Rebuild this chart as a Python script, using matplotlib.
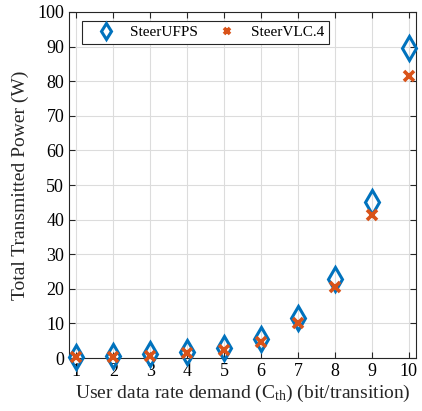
import numpy as np
import matplotlib
matplotlib.use('Agg')
from matplotlib import pyplot as plt

plt.rcParams['font.family'] = ['Liberation Serif', 'DejaVu Serif']
plt.rcParams['mathtext.fontset'] = 'custom'
plt.rcParams['mathtext.rm'] = 'Liberation Serif'
plt.rcParams['mathtext.it'] = 'Liberation Serif'

rate = np.arange(1, 11)
power_ufps = np.array([0.4, 0.6, 1.2, 1.7, 2.9, 5.5, 11.6, 22.8, 45.0, 89.5])
power_vlc4 = np.array([0.2, 0.3, 0.6, 1.4, 2.3, 4.7, 10.1, 20.5, 41.2, 81.6])

blue = (0, 0.447, 0.741)
orange = (0.85, 0.325, 0.098)

fig = plt.figure(figsize=(4.22, 4.11), dpi=100)
ax = fig.add_axes([69/422, 53/411, 347/422, 346/411])

ax.plot(rate, power_ufps, linestyle='none', marker='d', markersize=12,
        markerfacecolor='none', markeredgecolor=blue, markeredgewidth=2.2,
        label='SteerUFPS', clip_on=False, zorder=3)
ax.plot(rate, power_vlc4, linestyle='none', marker='x', markersize=7,
        markeredgecolor=orange, markeredgewidth=2.6,
        label='SteerVLC.4', clip_on=False, zorder=4)

ax.set_xlim(0.8, 10.2)
ax.set_ylim(0, 100)
ax.set_xticks(rate)
ax.set_yticks(np.arange(0, 101, 10))
ax.grid(True, color='#dcdcdc', linewidth=0.8)
ax.set_axisbelow(True)
ax.tick_params(direction='in', top=True, right=True, labelsize=13,
               color='#262626', length=4, width=0.8)
for s in ax.spines.values():
    s.set_color('#262626')
    s.set_linewidth(0.8)

ax.set_xlabel('User data rate demand (C$_{\\mathrm{th}}$) (bit/transition)',
              fontsize=14, color='#262626', labelpad=2)
ax.set_ylabel('Total Transmitted Power (W)', fontsize=14, color='#262626',
              labelpad=6)

leg = ax.legend(loc='upper left', ncol=2, fontsize=11, markerscale=0.7,
                fancybox=False, edgecolor='#262626', framealpha=1,
                bbox_to_anchor=(13/347, 1 - 9/346), borderaxespad=0,
                handlelength=2.5, handletextpad=0.35, columnspacing=0.65,
                borderpad=0.3)
leg.get_frame().set_linewidth(0.8)

plt.savefig('out.png', dpi=100)
